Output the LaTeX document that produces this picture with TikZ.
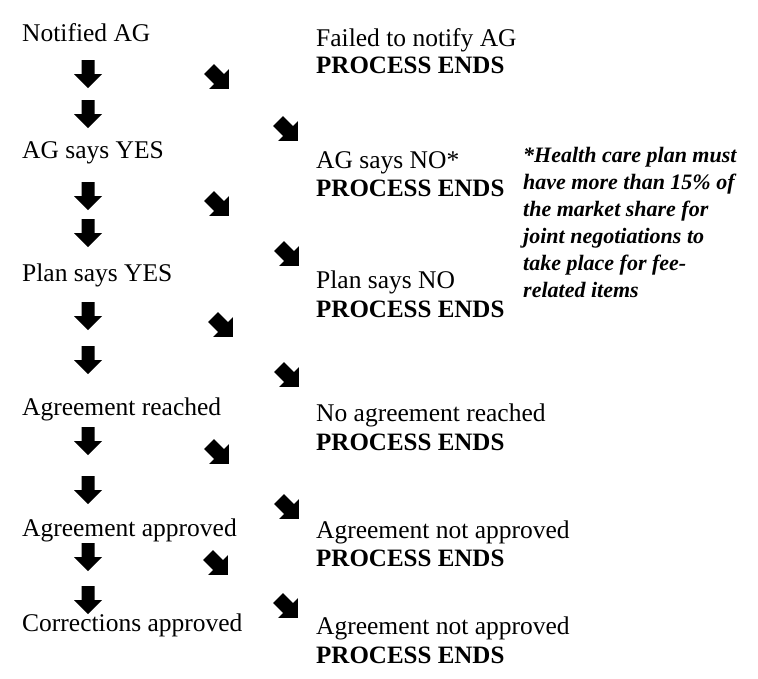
\documentclass[tikz,border=0pt]{standalone}
\usepackage{fontspec}
\setmainfont{Liberation Serif}
\begin{document}
\begin{tikzpicture}[x=1pt,y=-1pt,
  txt/.style={anchor=west, inner sep=0pt, text height=17pt, text depth=0pt, font=\fontsize{25.5}{30}\selectfont},
  endtxt/.style={txt, font=\fontsize{25}{30}\selectfont\bfseries},
  note/.style={anchor=north west, inner sep=0pt, align=left, font=\fontsize{22}{27}\selectfont\bfseries\itshape},
  downarrow/.pic={\fill (-6.5,-14) -- (6.5,-14) -- (6.5,0) -- (14,0) -- (0,14) -- (-14,0) -- (-6.5,0) -- cycle;},
  diagarrow/.pic={\fill (-14.85,-4.95) -- (-4.95,-14.85) -- (4.95,-4.95) -- (9.9,-9.9) -- (9.9,9.9) -- (-9.9,9.9) -- (-4.95,4.95) -- cycle;}
]
\useasboundingbox (0,0) rectangle (758,678);
\fill[white] (0,0) rectangle (758,678);

% left column
\node[txt] (l1) at (22,33) {Notified AG};
\node[txt] (l2) at (22,150) {AG says YES};
\node[txt] (l3) at (22,273) {Plan says YES};
\node[txt] (l4) at (22,407) {Agreement reached};
\node[txt] (l5) at (22,528) {Agreement approved};
\node[txt] (l6) at (22,623) {Corrections approved};

% right column
\node[txt] (r1) at (316,38) {Failed to notify AG};
\node[endtxt] (e1) at (316,65) {PROCESS ENDS};
\node[txt] (r2) at (316,160) {AG says NO*};
\node[endtxt] (e2) at (316,188) {PROCESS ENDS};
\node[txt] (r3) at (316,280) {Plan says NO};
\node[endtxt] (e3) at (316,309) {PROCESS ENDS};
\node[txt] (r4) at (316,413) {No agreement reached};
\node[endtxt] (e4) at (316,442) {PROCESS ENDS};
\node[txt] (r5) at (316,530) {Agreement not approved};
\node[endtxt] (e5) at (316,558) {PROCESS ENDS};
\node[txt] (r6) at (316,626) {Agreement not approved};
\node[endtxt] (e6) at (316,655) {PROCESS ENDS};

% note
\node[note] (n) at (523,147) {*Health care plan must\\have more than 15\% of\\the market share for\\joint negotiations to\\take place for fee-\\related items};

% down arrows
\pic at (88,74) {downarrow};
\pic at (88,114) {downarrow};
\pic at (88,196) {downarrow};
\pic at (88,233) {downarrow};
\pic at (88,316) {downarrow};
\pic at (88,360) {downarrow};
\pic at (88,441) {downarrow};
\pic at (88,490) {downarrow};
\pic at (88,557) {downarrow};
\pic at (88,600) {downarrow};

% diagonal arrows
\pic at (219,79) {diagarrow};
\pic at (288,131) {diagarrow};
\pic at (219,206) {diagarrow};
\pic at (289,256) {diagarrow};
\pic at (223,327) {diagarrow};
\pic at (289,377) {diagarrow};
\pic at (219,454) {diagarrow};
\pic at (289,509) {diagarrow};
\pic at (218,565) {diagarrow};
\pic at (288,608) {diagarrow};
\end{tikzpicture}
\end{document}
